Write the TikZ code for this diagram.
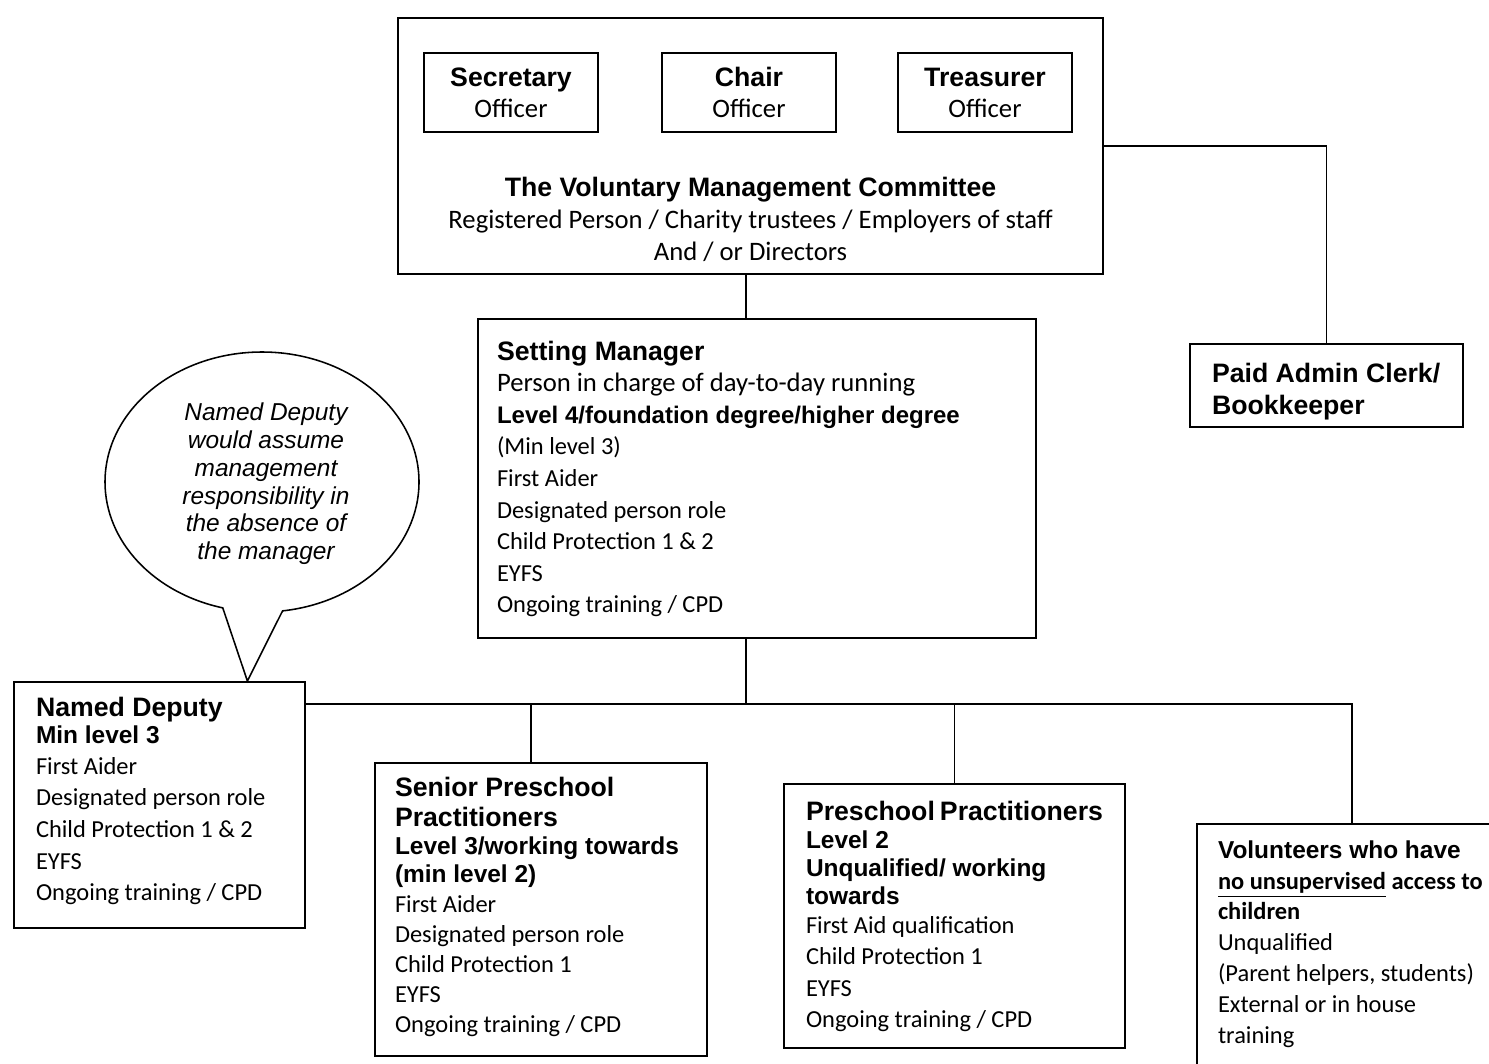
\documentclass[tikz,border=0pt]{standalone}
\usepackage{fontspec}
\setmainfont{Carlito}
\newfontfamily\arialfont{Liberation Sans}
\usepackage{tikz}
\usetikzlibrary{positioning, shapes.callouts, calc}

\newlength{\px}
\setlength{\px}{0.45pt}
\newcommand{\hd}{\arialfont\bfseries\fontsize{12}{13.5}\selectfont}
\newcommand{\subhd}{\arialfont\bfseries\fontsize{11}{12.6}\selectfont}
\newcommand{\bodytxt}{\fontsize{11}{14.2}\selectfont}

\begin{document}
\begin{tikzpicture}[
    x=0.45pt, y=-0.45pt,
    panel/.style={
        rectangle,
        draw=black,
        line width=0.9pt,
        fill=white,
        anchor=north west
    },
    officer/.style={
        rectangle,
        draw=black,
        line width=0.9pt,
        align=center,
        minimum width=174\px,
        minimum height=79\px,
        font=\fontsize{12}{14}\selectfont
    },
    bubble/.style={
        ellipse callout,
        draw=black,
        line width=0.7pt,
        fill=white,
        minimum width=314\px,
        minimum height=260\px,
        callout pointer arc=22
    },
    bubbletext/.style={
        align=center,
        font=\arialfont\itshape\fontsize{11}{12.5}\selectfont
    },
    link/.style={
        line width=0.7pt
    }
]
\useasboundingbox (0,0) rectangle (1489,1063);
\fill[white] (0,0) rectangle (1489,1063);

% Nodes
\node (comm) [panel, inner xsep=15\px, inner ysep=13\px] at (397,17) {%
  \begin{minipage}[t][229\px][b]{675\px}\centering
  {\hd The Voluntary Management Committee\par}
  {\fontsize{12}{14.2}\selectfont Registered Person / Charity trustees / Employers of staff\par
  And / or Directors\par}
  \end{minipage}};

\node (secretary) [officer] at (511,92.5) {{\hd Secretary}\\Officer};
\node (chair) [officer] at (749,92.5) {{\hd Chair}\\Officer};
\node (treasurer) [officer] at (985,92.5) {{\hd Treasurer}\\Officer};

\node (mgr) [panel, inner xsep=19\px, inner ysep=22\px] at (477,318) {%
  \begin{minipage}[t][275\px][t]{520\px}
  {\hd Setting Manager\par}
  {\fontsize{12}{14.2}\selectfont Person in charge of day-to-day running\par}
  {\arialfont\bfseries\fontsize{10.8}{14.2}\selectfont Level 4/foundation degree/higher degree\par}
  {\bodytxt (Min level 3)\par First Aider\par Designated person role\par
  Child Protection 1 \& 2\par EYFS\par Ongoing training / CPD\par}
  \end{minipage}};

\node (admin) [panel, inner xsep=22\px, inner ysep=19\px] at (1189,343) {%
  \begin{minipage}[t][45\px][t]{229\px}
  {\arialfont\bfseries\fontsize{12}{14.4}\selectfont Paid Admin Clerk/\par Bookkeeper\par}
  \end{minipage}};

\node (deputy) [panel, inner xsep=22\px, inner ysep=15\px] at (13,681) {%
  \begin{minipage}[t][216\px][t]{247\px}
  {\hd Named Deputy\par}
  {\arialfont\bfseries\fontsize{11}{12.4}\selectfont Min level 3\par}
  {\fontsize{11}{13.7}\selectfont First Aider\par}
  {\bodytxt Designated person role\par
  Child Protection 1 \& 2\par EYFS\par Ongoing training / CPD\par}
  \end{minipage}};

\node (senior) [panel, inner xsep=20\px, inner ysep=14\px] at (374,762) {%
  \begin{minipage}[t][265\px][t]{292\px}
  {\hd Senior Preschool\par Practitioners\par}
  {\subhd Level 3/working towards\par (min level 2)\par}
  {\fontsize{11}{13.5}\selectfont First Aider\par Designated person role\par
  Child Protection 1\par EYFS\par Ongoing training / CPD\par}
  \end{minipage}};

\node (pre) [panel, inner xsep=22\px, inner ysep=17\px] at (783,783) {%
  \begin{minipage}[t][230\px][t]{297\px}
  {\hd Preschool Practitioners\par}
  {\subhd Level 2\par Unqualified/ working\par towards\par}
  {\fontsize{11}{12.9}\selectfont First Aid qualification\par}
  {\bodytxt Child Protection 1\par EYFS\par Ongoing training / CPD\par}
  \end{minipage}};

\node (vol) [panel, inner xsep=21\px, inner ysep=17\px] at (1196,823) {%
  \begin{minipage}[t][226\px][t]{268\px}
  {\subhd Volunteers who have\par}
  {\fontsize{11}{13.7}\selectfont\bfseries \underline{no unsupervised} access to\par children\par}
  {\fontsize{11}{13.9}\selectfont Unqualified\par (Parent helpers, students)\par External or in house\par
  training\par}
  \end{minipage}};

\node (bubble) [bubble, callout absolute pointer={($(deputy.north west)!0.8!(deputy.north east)$)}] at (262,482) {};
\node (note) [bubbletext] at (266,484) {Named Deputy\\would assume\\management\\responsibility in\\the absence of\\the manager};

% Connections
\coordinate (spine) at (746,704);
\draw [link] (comm.south -| spine) -- (mgr.north -| spine);
\draw [link] (comm.east) -| (admin.north);
\draw [link] (mgr.south -| spine) -- (spine);
\draw [link] (deputy.east |- spine) -- (vol.north |- spine) -- (vol.north);
\draw [link] ([xshift=-10\px]senior.north) -- ([xshift=-10\px]senior.north |- spine);
\draw [link] (pre.north) -- (pre.north |- spine);

\end{tikzpicture}
\end{document}
